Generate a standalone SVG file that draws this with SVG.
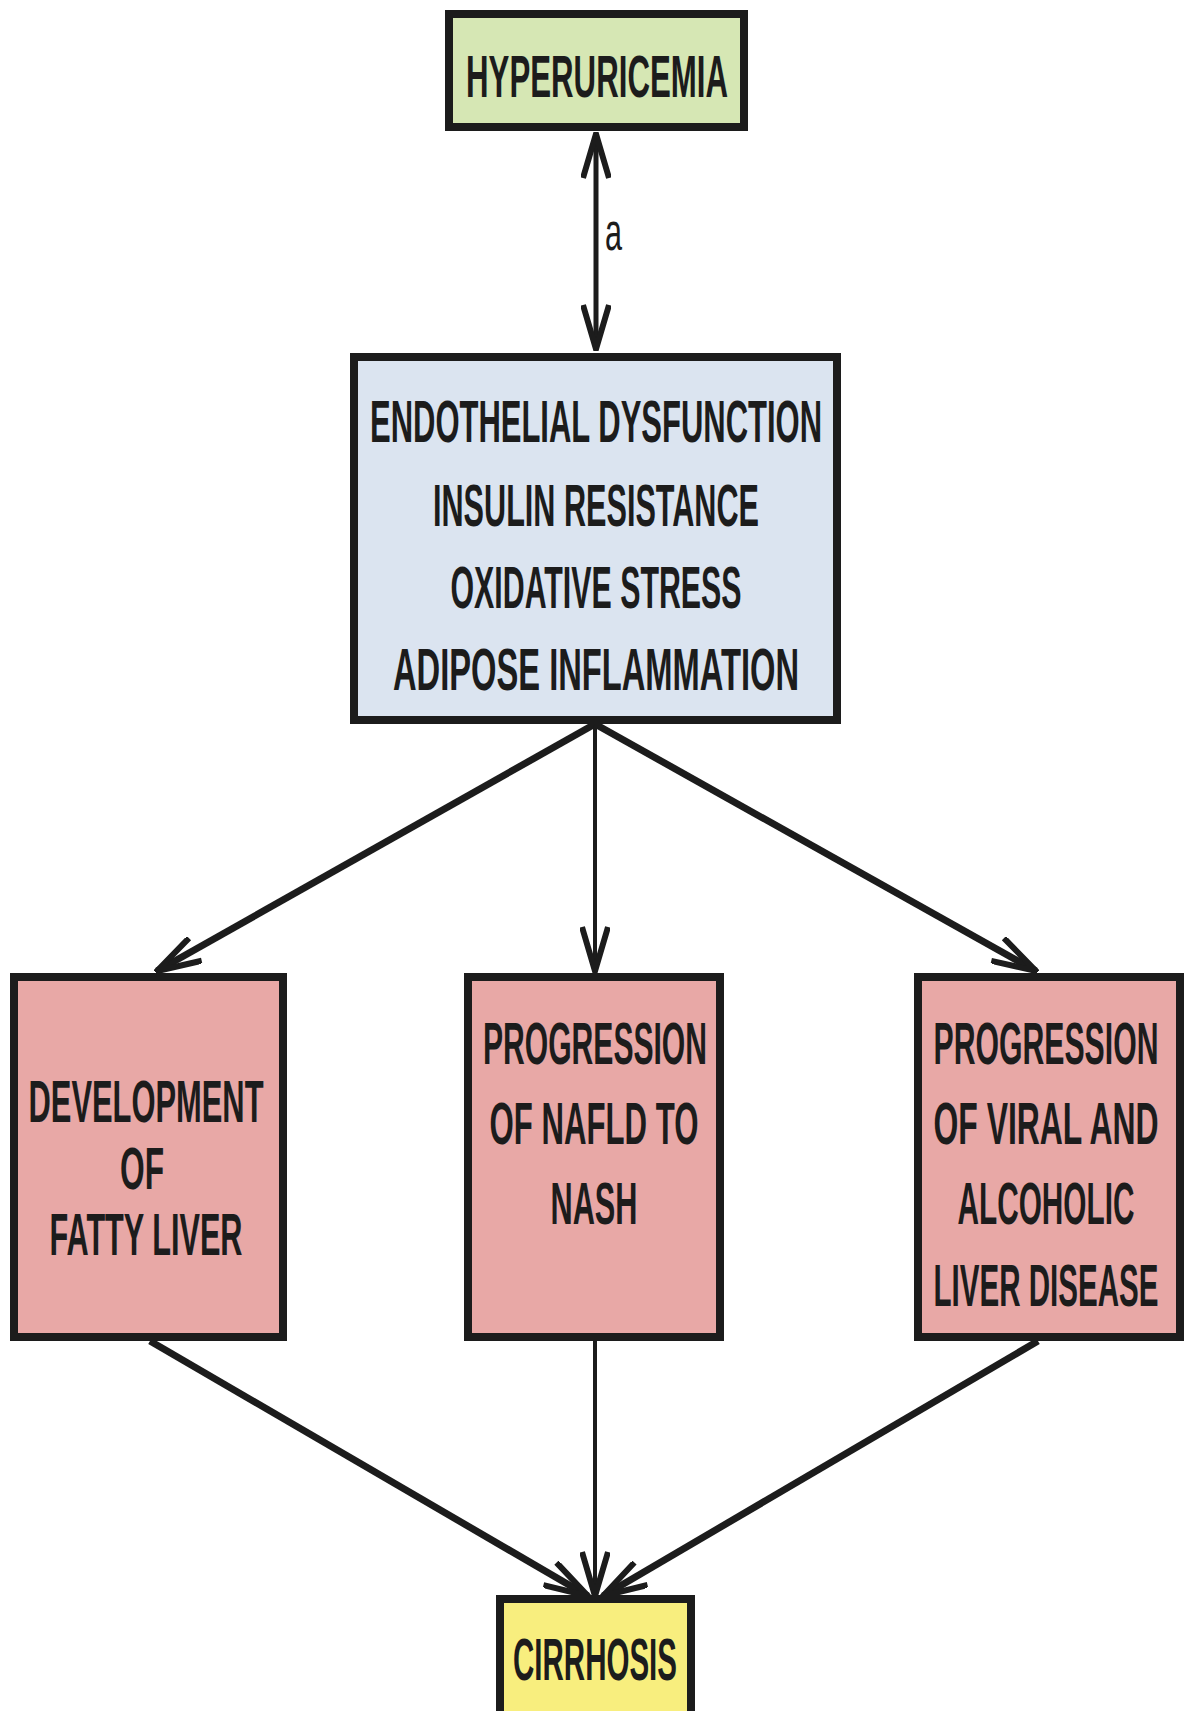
<svg xmlns="http://www.w3.org/2000/svg" width="1184" height="1711" viewBox="0 0 1184 1711">
<style>
.box{stroke:#1c1c1c;stroke-width:8}
.t{font-family:"Liberation Sans",Arial,sans-serif;font-weight:bold;font-size:60px;fill:#1c1c1c;text-anchor:middle}
.lbl{font-family:"Liberation Sans",Arial,sans-serif;font-size:52px;fill:#1c1c1c}
.c{stroke:#1c1c1c;fill:none;stroke-linecap:butt}
</style>
<defs>
<marker id="ah" markerUnits="userSpaceOnUse" viewBox="-2 -2 48 30" markerWidth="48" markerHeight="30" refX="44" refY="13" orient="auto-start-reverse">
<path d="M0,0 L44,13 L0,26" fill="none" stroke="#1c1c1c" stroke-width="6" stroke-linejoin="miter"/>
</marker>
</defs>
<rect width="1184" height="1711" fill="#ffffff"/>
<g id="connectors">
<line class="c" x1="596" y1="134" x2="596" y2="349" stroke-width="5" marker-start="url(#ah)" marker-end="url(#ah)"/>
<line class="c" x1="595" y1="724" x2="157" y2="971" stroke-width="7" marker-end="url(#ah)"/>
<line class="c" x1="595" y1="724" x2="595" y2="971" stroke-width="4" marker-end="url(#ah)"/>
<line class="c" x1="595" y1="724" x2="1036" y2="971" stroke-width="7" marker-end="url(#ah)"/>
<line class="c" x1="150" y1="1341" x2="588" y2="1596" stroke-width="7" marker-end="url(#ah)"/>
<line class="c" x1="595" y1="1341" x2="595" y2="1596" stroke-width="4" marker-end="url(#ah)"/>
<line class="c" x1="1038" y1="1341" x2="603" y2="1596" stroke-width="7" marker-end="url(#ah)"/>
<text class="lbl" transform="translate(605,250) scale(0.55,1)" x="0" y="0" textLength="31" lengthAdjust="spacingAndGlyphs">a</text>
</g>
<g id="hyperuricemia">
<rect class="box" x="449" y="14" width="295" height="113" fill="#d6e7b4"/>
<text class="t" transform="translate(597,97) scale(0.5,1)" textLength="524" lengthAdjust="spacingAndGlyphs">HYPERURICEMIA</text>
</g>
<g id="mechanisms">
<rect class="box" x="354" y="357" width="483" height="363" fill="#dbe4f0"/>
<text class="t" transform="translate(596,442) scale(0.5,1)" textLength="904" lengthAdjust="spacingAndGlyphs">ENDOTHELIAL DYSFUNCTION</text>
<text class="t" transform="translate(596,526) scale(0.5,1)" textLength="652" lengthAdjust="spacingAndGlyphs">INSULIN RESISTANCE</text>
<text class="t" transform="translate(596,608) scale(0.5,1)" textLength="582" lengthAdjust="spacingAndGlyphs">OXIDATIVE STRESS</text>
<text class="t" transform="translate(596,690) scale(0.5,1)" textLength="812" lengthAdjust="spacingAndGlyphs">ADIPOSE INFLAMMATION</text>
</g>
<g id="fatty-liver">
<rect class="box" x="14" y="977" width="269" height="360" fill="#e8a8a6"/>
<text class="t" transform="translate(146,1122) scale(0.5,1)" textLength="470" lengthAdjust="spacingAndGlyphs">DEVELOPMENT</text>
<text class="t" transform="translate(142,1189) scale(0.5,1)" textLength="88" lengthAdjust="spacingAndGlyphs">OF</text>
<text class="t" transform="translate(146,1255) scale(0.5,1)" textLength="386" lengthAdjust="spacingAndGlyphs">FATTY LIVER</text>
</g>
<g id="nafld-nash">
<rect class="box" x="468" y="977" width="252" height="360" fill="#e8a8a6"/>
<text class="t" transform="translate(595,1064) scale(0.5,1)" textLength="448" lengthAdjust="spacingAndGlyphs">PROGRESSION</text>
<text class="t" transform="translate(594,1144) scale(0.5,1)" textLength="418" lengthAdjust="spacingAndGlyphs">OF NAFLD TO</text>
<text class="t" transform="translate(594,1224) scale(0.5,1)" textLength="174" lengthAdjust="spacingAndGlyphs">NASH</text>
</g>
<g id="viral-alcoholic">
<rect class="box" x="918" y="977" width="262" height="360" fill="#e8a8a6"/>
<text class="t" transform="translate(1046,1064) scale(0.5,1)" textLength="450" lengthAdjust="spacingAndGlyphs">PROGRESSION</text>
<text class="t" transform="translate(1046,1144) scale(0.5,1)" textLength="450" lengthAdjust="spacingAndGlyphs">OF VIRAL AND</text>
<text class="t" transform="translate(1046,1224) scale(0.5,1)" textLength="354" lengthAdjust="spacingAndGlyphs">ALCOHOLIC</text>
<text class="t" transform="translate(1046,1306) scale(0.5,1)" textLength="450" lengthAdjust="spacingAndGlyphs">LIVER DISEASE</text>
</g>
<g id="cirrhosis">
<rect class="box" x="500" y="1599" width="191" height="120" fill="#f8ee7e"/>
<text class="t" transform="translate(595,1680) scale(0.5,1)" textLength="328" lengthAdjust="spacingAndGlyphs">CIRRHOSIS</text>
</g>
</svg>
